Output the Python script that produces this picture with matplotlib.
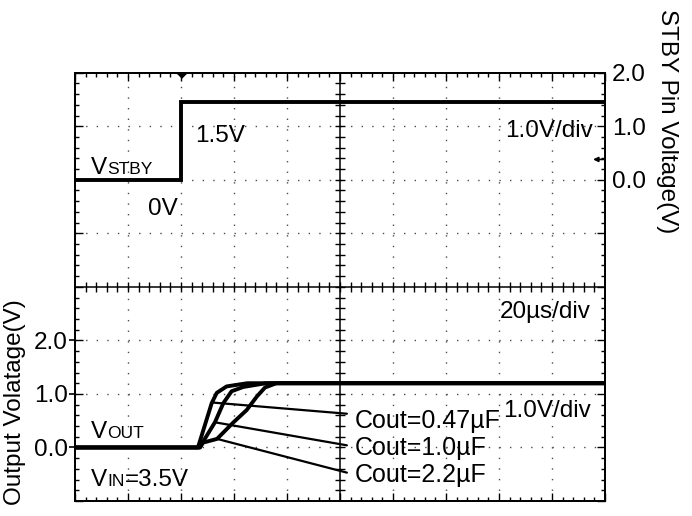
import numpy as np
import matplotlib
matplotlib.use("Agg")
import matplotlib.pyplot as plt
from matplotlib.ticker import MultipleLocator, FuncFormatter, NullFormatter
from matplotlib.markers import TICKLEFT

plt.rcParams['font.family'] = ['Liberation Sans', 'DejaVu Sans']

# ---------------- data (time in µs, voltage in V) ----------------
t_stby = [0, 40, 40, 200]
v_stby = [0.0, 0.0, 1.45, 1.45]

t_c047 = [0, 46.4, 51.6, 53.5, 57.2, 65, 200]
v_c047 = [0.0, 0.0, 0.83, 1.02, 1.14, 1.2, 1.2]

t_c10 = [0, 47.0, 52.8, 56.0, 59.1, 63.5, 72, 200]
v_c10 = [0.0, 0.0, 0.47, 0.83, 1.05, 1.13, 1.2, 1.2]

t_c22 = [0, 47.2, 48.3, 53.6, 59.6, 64.8, 68.6, 71.7, 76, 200]
v_c22 = [0.0, 0.0, 0.09, 0.16, 0.46, 0.70, 0.95, 1.12, 1.2, 1.2]

cout_labels = ['Cout=0.47µF', 'Cout=1.0µF', 'Cout=2.2µF']
left_ticks = [0, 1, 2]
right_ticks = [0, 1, 2]

# ---------------- figure ----------------
W, H = 692, 516
fig = plt.figure(figsize=(W / 100, H / 100), dpi=100)
ax = fig.add_axes([75 / W, 1 - 501 / H, 530 / W, (501 - 72.7) / H])
ax.set_xlim(0, 200)
ax.set_ylim(-1, 7)
ax2 = ax.twinx()
ax2.set_ylim(-6, 2)

for sp in list(ax.spines.values()) + list(ax2.spines.values()):
    sp.set_linewidth(1.3)

# dotted graticule
dot = (0, (1, 6.63))
for xv in np.arange(20, 200, 20):
    if xv != 100:
        ax.axvline(xv, color='0.3', lw=1.0, ls=dot, zorder=1)
for yv in np.arange(0, 7, 1):
    if yv != 3:
        ax.axhline(yv, color='0.3', lw=1.0, ls=dot, zorder=1)

# centre cross with small ticks
ax.axhline(3, color='k', lw=1.1, zorder=2)
ax.axvline(100, color='k', lw=1.1, zorder=2)
mt = np.arange(4, 200, 4)
ax.plot(mt, np.full(mt.shape, 3.0), ls='none', marker='|', ms=7, mew=1.0, color='k', zorder=2)
mv = np.arange(-0.8, 7, 0.2)
ax.plot(np.full(mv.shape, 100.0), mv, ls='none', marker='_', ms=7, mew=1.0, color='k', zorder=2)

# border ticks
ax.xaxis.set_major_locator(MultipleLocator(20))
ax.xaxis.set_minor_locator(MultipleLocator(4))
ax.xaxis.set_major_formatter(NullFormatter())
ax.tick_params(axis='x', which='major', direction='in', length=6, width=1, top=True, bottom=True,
               labelbottom=False)
ax.tick_params(axis='x', which='minor', direction='in', length=3, width=1, top=True, bottom=True)

fmt_left = FuncFormatter(lambda v, p: f'{v:.1f}' if round(v) in left_ticks and abs(v - round(v)) < 1e-6 else '')
ax.yaxis.set_major_locator(MultipleLocator(1))
ax.yaxis.set_minor_locator(MultipleLocator(0.2))
ax.yaxis.set_major_formatter(fmt_left)
ax.tick_params(axis='y', which='major', direction='in', length=6, width=1, left=True, right=False,
               labelsize=17.5, pad=5)
ax.tick_params(axis='y', which='minor', direction='in', length=3, width=1, left=True, right=False)
# outward stubs at labelled left values
ax.plot(np.zeros(len(left_ticks)), left_ticks, ls='none', marker=TICKLEFT, ms=4, mew=1.2,
        color='k', clip_on=False)

fmt_right = FuncFormatter(lambda v, p: f'{v:.1f}' if round(v) in right_ticks and abs(v - round(v)) < 1e-6 else '')
ax2.yaxis.set_major_locator(MultipleLocator(1))
ax2.yaxis.set_minor_locator(MultipleLocator(0.2))
ax2.yaxis.set_major_formatter(fmt_right)
ax2.tick_params(axis='y', which='major', direction='in', length=6, width=1, left=False, right=True,
                labelsize=17.5, pad=5)
ax2.tick_params(axis='y', which='minor', direction='in', length=3, width=1, left=False, right=True)

# traces
lw_tr = 2.8
ax2.plot(t_stby, v_stby, color='k', lw=lw_tr, zorder=5, solid_joinstyle='miter')
ax.plot(t_c22, v_c22, color='k', lw=lw_tr, zorder=5)
ax.plot(t_c10, v_c10, color='k', lw=lw_tr, zorder=5)
ax.plot(t_c047, v_c047, color='k', lw=lw_tr, zorder=5)

# trigger marker at top and small level arrow on the right
ax2.plot([t_stby[1]], [2], marker=[(-1, 0), (1, 0), (0, -1)], ms=7, color='k',
         clip_on=False, zorder=6)
ax2.annotate('', xy=(195.5, 0.38), xytext=(199.6, 0.38),
             arrowprops=dict(arrowstyle='-|>', lw=1.2, color='k', mutation_scale=7,
                             shrinkA=0, shrinkB=0))

# leader lines to the Cout labels
series = [(t_c047, v_c047, 51.7, 0.63), (t_c10, v_c10, 52.8, 0.04), (t_c22, v_c22, 53.6, -0.47)]
for (ts, vs, ta, vend) in series:
    va = float(np.interp(ta, ts, vs))
    ax.annotate('', xy=(ta, va), xytext=(102.6, vend),
                arrowprops=dict(arrowstyle='-', lw=1.6, color='k', shrinkA=0, shrinkB=0),
                zorder=6)

FS = 17.5
SUB = 12.5


def ptext(x, y, s, size=FS, **kw):
    return fig.text(x / W, 1 - y / H, s, fontsize=size, ha='left', va='baseline', **kw)


for lab, yb in zip(cout_labels, [428, 455, 482]):
    ptext(355, yb, lab, 18)

ptext(195, 142, '1.5V')
ptext(148, 215, '0V')
ptext(505, 137, '1.0V/div')
ptext(500, 318, '20µs/div')
ptext(503, 417, '1.0V/div')

renderer = fig.canvas.get_renderer()


def subtext(x, y, parts):
    for s, size in parts:
        t = ptext(x, y, s, size)
        bb = t.get_window_extent(renderer)
        x = bb.x1


subtext(91, 174, [('V', FS), ('STBY', SUB)])
subtext(91, 438, [('V', FS), ('OUT', SUB)])
subtext(91, 486, [('V', FS), ('IN', SUB), ('=3.5V', FS)])

fig.text(15 / W, 1 - 402 / H, 'Output Volatage(V)', rotation=90, ha='center', va='center', fontsize=FS)
fig.text(667 / W, 1 - 121 / H, 'STBY Pin Voltage(V)', rotation=-90, ha='center', va='center', fontsize=FS)

fig.savefig('out.png', dpi=100)
